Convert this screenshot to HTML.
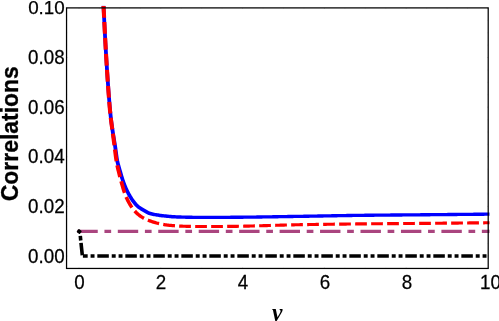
<!DOCTYPE html>
<html><head><meta charset="utf-8"><title>plot</title>
<style>
html,body{margin:0;padding:0;background:#fff;}
body{width:499px;height:321px;overflow:hidden;position:relative;font-family:"Liberation Sans",sans-serif;}
svg{position:absolute;left:0;top:0;will-change:transform;}
text{font-family:"Liberation Sans",sans-serif;fill:#000;}
.tk{font-size:18.8px;stroke:#000;stroke-width:0.25px;}
</style></head><body>
<svg width="499" height="321" viewBox="0 0 499 321">
<defs><clipPath id="c"><rect x="66.55" y="5.800000000000001" width="423.15" height="262.65000000000003"/></clipPath></defs>
<g clip-path="url(#c)" fill="none" stroke-width="3.5">
<path d="M101.60,5.59 L101.65,6.59 L101.70,7.59 L101.75,8.59 L101.80,9.59 L101.85,10.59 L101.90,11.59 L101.95,12.59 L102.00,13.58 L102.05,14.58 L102.10,15.58 L102.15,16.58 L102.20,17.58 L102.25,18.58 L102.30,19.58 L102.35,20.58 L102.40,21.57 L102.45,22.57 L102.50,23.57 L102.55,24.57 L102.60,25.57 L102.65,26.57 L102.70,27.57 L102.75,28.57 L102.80,29.57 L102.85,30.57 L102.90,31.56 L102.95,32.56 L103.00,33.56 L103.05,34.56 L103.10,35.56 L103.16,36.56 L103.21,37.56 L103.26,38.56 L103.31,39.56 L103.37,40.56 L103.42,41.56 L103.48,42.56 L103.53,43.56 L103.59,44.56 L103.64,45.55 L103.70,46.55 L103.76,47.55 L103.81,48.55 L103.87,49.55 L103.93,50.55 L103.99,51.55 L104.05,52.55 L104.11,53.55 L104.17,54.55 L104.23,55.54 L104.29,56.54 L104.35,57.54 L104.41,58.54 L104.47,59.54 L104.53,60.54 L104.59,61.54 L104.65,62.54 L104.72,63.53 L104.78,64.53 L104.84,65.53 L104.91,66.53 L104.97,67.53 L105.03,68.53 L105.10,69.53 L105.16,70.53 L105.23,71.52 L105.30,72.52 L105.36,73.52 L105.43,74.52 L105.50,75.52 L105.56,76.52 L105.63,77.52 L105.70,78.51 L105.77,79.51 L105.84,80.51 L105.91,81.51 L105.98,82.51 L106.05,83.51 L106.12,84.50 L106.19,85.50 L106.27,86.50 L106.34,87.50 L106.41,88.50 L106.49,89.50 L106.56,90.49 L106.63,91.49 L106.71,92.49 L106.79,93.49 L106.86,94.49 L106.94,95.48 L107.02,96.48 L107.09,97.48 L107.17,98.48 L107.25,99.48 L107.33,100.48 L107.41,101.47 L107.49,102.47 L107.58,103.47 L107.66,104.47 L107.74,105.47 L107.83,106.47 L107.92,107.47 L108.01,108.47 L108.10,109.46 L108.19,110.46 L108.29,111.46 L108.38,112.46 L108.48,113.46 L108.58,114.46 L108.69,115.46 L108.80,116.46 L108.91,117.46 L109.02,118.46 L109.14,119.46 L109.26,120.46 L109.39,121.46 L109.52,122.46 L109.65,123.46 L109.79,124.45 L109.93,125.45 L110.07,126.44 L110.21,127.43 L110.35,128.43 L110.49,129.42 L110.64,130.41 L110.79,131.40 L110.93,132.39 L111.08,133.38 L111.23,134.38 L111.39,135.38 L111.55,136.37 L111.72,137.37 L111.89,138.35 L112.05,139.34 L112.22,140.33 L112.39,141.31 L112.56,142.30 L112.72,143.28 L112.89,144.26 L113.05,145.24 L113.20,146.22 L113.35,147.20 L113.50,148.17 L113.63,149.15 L113.76,150.13 L113.89,151.12 L114.02,152.11 L114.15,153.10 L114.28,154.10 L114.41,155.10 L114.55,156.10 L114.69,157.10 L114.85,158.11 L115.02,159.12 L115.20,160.13 L115.40,161.14 L115.61,162.15 L115.85,163.16 L116.09,164.15 L116.36,165.15 L116.62,166.13 L116.90,167.10 L117.18,168.07 L117.46,169.04 L117.75,170.00 L118.03,170.95 L118.31,171.91 L118.58,172.86 L118.86,173.83 L119.14,174.79 L119.43,175.76 L119.71,176.72 L120.01,177.69 L120.31,178.66 L120.61,179.62 L120.93,180.59 L121.25,181.55 L121.59,182.51 L121.93,183.47 L122.29,184.43 L122.65,185.39 L123.04,186.34 L123.43,187.28 L123.83,188.22 L124.24,189.16 L124.67,190.08 L125.10,191.01 L125.55,191.93 L126.01,192.84 L126.47,193.75 L126.95,194.66 L127.44,195.56 L127.95,196.45 L128.47,197.33 L129.00,198.21 L129.56,199.09 L130.13,199.96 L130.71,200.80 L131.29,201.64 L131.90,202.47 L132.51,203.30 L133.16,204.12 L133.82,204.92 L134.53,205.73 L135.28,206.52 L136.05,207.27 L136.88,207.99 L137.73,208.65 L138.60,209.27 L139.50,209.86 L140.39,210.41 L141.28,210.93 L142.16,211.44 L143.04,211.93 L143.90,212.42 L144.74,212.90 L145.61,213.41 L146.52,213.92 L147.50,214.43 L148.56,214.89 L149.64,215.25 L150.65,215.53 L151.67,215.78 L152.69,215.99 L153.70,216.19 L154.72,216.37 L155.72,216.53 L156.72,216.69 L157.71,216.84 L158.71,216.99 L159.72,217.13 L160.72,217.26 L161.73,217.39 L162.73,217.50 L163.73,217.62 L164.73,217.72 L165.74,217.83 L166.73,217.93 L167.73,218.03 L168.73,218.12 L169.74,218.22 L170.74,218.31 L171.76,218.39 L172.77,218.46 L173.79,218.52 L174.80,218.57 L175.80,218.61 L176.81,218.65 L177.82,218.69 L178.82,218.72 L179.83,218.75 L180.83,218.78 L181.84,218.80 L182.84,218.82 L183.84,218.84 L184.84,218.86 L185.84,218.88 L186.84,218.90 L187.84,218.92 L188.84,218.94 L189.84,218.95 L190.85,218.97 L191.85,218.98 L192.85,218.99 L193.86,219.00 L194.86,219.01 L195.86,219.02 L196.87,219.02 L197.87,219.02 L198.87,219.03 L199.87,219.03 L200.87,219.03 L201.87,219.03 L202.87,219.03 L203.87,219.03 L204.87,219.03 L205.87,219.03 L206.87,219.03 L207.87,219.03 L208.87,219.03 L209.87,219.03 L210.87,219.03 L211.87,219.03 L212.87,219.03 L213.87,219.02 L214.88,219.02 L215.88,219.02 L216.88,219.02 L217.88,219.02 L218.88,219.02 L219.88,219.02 L220.88,219.01 L221.88,219.01 L222.88,219.01 L223.88,219.00 L224.88,219.00 L225.88,218.99 L226.88,218.99 L227.88,218.98 L228.88,218.98 L229.88,218.98 L230.88,218.97 L231.88,218.97 L232.88,218.96 L233.89,218.95 L234.89,218.95 L235.89,218.94 L236.89,218.93 L237.89,218.93 L238.89,218.92 L239.89,218.91 L240.89,218.90 L241.89,218.89 L242.89,218.88 L243.89,218.87 L244.89,218.86 L245.89,218.85 L246.89,218.84 L247.89,218.83 L248.89,218.82 L249.89,218.80 L250.89,218.79 L251.89,218.78 L252.90,218.77 L253.90,218.75 L254.90,218.74 L255.90,218.73 L256.90,218.71 L257.90,218.70 L258.90,218.68 L259.90,218.67 L260.90,218.65 L261.90,218.64 L262.90,218.62 L263.90,218.61 L264.90,218.59 L265.90,218.58 L266.90,218.56 L267.90,218.55 L268.90,218.53 L269.90,218.51 L270.90,218.50 L271.90,218.48 L272.90,218.47 L273.90,218.45 L274.90,218.43 L275.90,218.42 L276.90,218.40 L277.90,218.38 L278.90,218.37 L279.90,218.35 L280.90,218.33 L281.90,218.32 L282.90,218.30 L283.90,218.28 L284.90,218.27 L285.90,218.25 L286.90,218.23 L287.90,218.22 L288.90,218.20 L289.90,218.18 L290.90,218.17 L291.90,218.15 L292.90,218.14 L293.90,218.12 L294.89,218.10 L295.89,218.09 L296.89,218.07 L297.89,218.06 L298.89,218.04 L299.89,218.03 L300.89,218.01 L301.89,218.00 L302.89,217.98 L303.89,217.96 L304.89,217.95 L305.89,217.93 L306.89,217.92 L307.89,217.90 L308.90,217.88 L309.90,217.87 L310.90,217.85 L311.90,217.83 L312.90,217.81 L313.90,217.80 L314.90,217.78 L315.90,217.76 L316.90,217.74 L317.90,217.72 L318.90,217.71 L319.90,217.69 L320.90,217.67 L321.90,217.65 L322.90,217.63 L323.90,217.61 L324.89,217.60 L325.89,217.58 L326.89,217.56 L327.89,217.54 L328.89,217.52 L329.89,217.50 L330.89,217.49 L331.89,217.47 L332.89,217.45 L333.89,217.43 L334.89,217.41 L335.89,217.39 L336.89,217.38 L337.89,217.36 L338.89,217.34 L339.89,217.32 L340.89,217.31 L341.89,217.29 L342.89,217.27 L343.89,217.26 L344.89,217.24 L345.89,217.22 L346.89,217.21 L347.89,217.19 L348.89,217.18 L349.89,217.16 L350.88,217.15 L351.88,217.13 L352.88,217.12 L353.88,217.10 L354.88,217.09 L355.88,217.08 L356.88,217.06 L357.88,217.05 L358.88,217.04 L359.88,217.03 L360.88,217.01 L361.88,217.00 L362.88,216.99 L363.88,216.98 L364.88,216.97 L365.88,216.96 L366.88,216.95 L367.88,216.94 L368.88,216.93 L369.88,216.92 L370.88,216.91 L371.88,216.90 L372.88,216.89 L373.87,216.88 L374.87,216.87 L375.87,216.86 L376.87,216.85 L377.87,216.84 L378.87,216.83 L379.87,216.82 L380.87,216.81 L381.87,216.80 L382.87,216.79 L383.87,216.78 L384.87,216.77 L385.87,216.77 L386.87,216.76 L387.87,216.75 L388.87,216.74 L389.87,216.73 L390.87,216.72 L391.87,216.71 L392.87,216.71 L393.87,216.70 L394.87,216.69 L395.87,216.68 L396.87,216.67 L397.87,216.66 L398.87,216.66 L399.87,216.65 L400.87,216.64 L401.87,216.63 L402.87,216.62 L403.87,216.62 L404.87,216.61 L405.87,216.60 L406.87,216.59 L407.87,216.58 L408.87,216.57 L409.87,216.56 L410.87,216.56 L411.87,216.55 L412.87,216.54 L413.87,216.53 L414.87,216.52 L415.87,216.51 L416.87,216.50 L417.87,216.49 L418.87,216.49 L419.87,216.48 L420.87,216.47 L421.87,216.46 L422.87,216.45 L423.87,216.44 L424.87,216.43 L425.87,216.42 L426.87,216.41 L427.87,216.40 L428.87,216.39 L429.87,216.38 L430.87,216.37 L431.87,216.37 L432.87,216.36 L433.87,216.35 L434.87,216.34 L435.87,216.33 L436.87,216.32 L437.87,216.31 L438.87,216.30 L439.87,216.29 L440.87,216.28 L441.87,216.27 L442.87,216.26 L443.87,216.25 L444.87,216.24 L445.87,216.24 L446.87,216.23 L447.87,216.22 L448.87,216.21 L449.87,216.20 L450.87,216.19 L451.87,216.18 L452.87,216.17 L453.87,216.16 L454.87,216.15 L455.87,216.14 L456.87,216.13 L457.87,216.12 L458.87,216.11 L459.87,216.10 L460.87,216.10 L461.87,216.09 L462.87,216.08 L463.87,216.07 L464.87,216.06 L465.87,216.05 L466.87,216.04 L467.87,216.03 L468.87,216.02 L469.87,216.01 L470.87,216.00 L471.87,215.99 L472.87,215.98 L473.87,215.97 L474.87,215.96 L475.87,215.95 L476.87,215.95 L477.87,215.94 L478.87,215.93 L479.87,215.92 L480.87,215.91 L481.87,215.90 L482.87,215.89 L483.87,215.88 L484.87,215.87 L485.87,215.86 L486.87,215.85 L487.87,215.84 L488.87,215.83 L489.67,215.83 L489.64,212.48 L488.84,212.48 L487.84,212.49 L486.84,212.50 L485.84,212.51 L484.84,212.52 L483.84,212.53 L482.84,212.54 L481.84,212.55 L480.84,212.56 L479.84,212.57 L478.84,212.58 L477.84,212.59 L476.84,212.60 L475.84,212.61 L474.84,212.61 L473.84,212.62 L472.84,212.63 L471.84,212.64 L470.84,212.65 L469.84,212.66 L468.84,212.67 L467.84,212.68 L466.84,212.69 L465.84,212.70 L464.84,212.71 L463.84,212.72 L462.84,212.73 L461.84,212.74 L460.84,212.75 L459.84,212.75 L458.84,212.76 L457.84,212.77 L456.84,212.78 L455.84,212.79 L454.84,212.80 L453.84,212.81 L452.84,212.82 L451.84,212.83 L450.84,212.84 L449.84,212.85 L448.84,212.86 L447.84,212.87 L446.84,212.88 L445.84,212.89 L444.84,212.89 L443.84,212.90 L442.84,212.91 L441.84,212.92 L440.84,212.93 L439.84,212.94 L438.84,212.95 L437.84,212.96 L436.84,212.97 L435.84,212.98 L434.84,212.99 L433.84,213.00 L432.84,213.01 L431.84,213.02 L430.84,213.02 L429.84,213.03 L428.84,213.04 L427.84,213.05 L426.84,213.06 L425.84,213.07 L424.84,213.08 L423.84,213.09 L422.84,213.10 L421.84,213.11 L420.84,213.12 L419.84,213.13 L418.84,213.14 L417.84,213.14 L416.84,213.15 L415.84,213.16 L414.84,213.17 L413.84,213.18 L412.84,213.19 L411.84,213.20 L410.84,213.21 L409.84,213.21 L408.84,213.22 L407.84,213.23 L406.84,213.24 L405.84,213.25 L404.84,213.26 L403.84,213.27 L402.84,213.27 L401.84,213.28 L400.84,213.29 L399.84,213.30 L398.84,213.31 L397.84,213.31 L396.84,213.32 L395.84,213.33 L394.84,213.34 L393.84,213.35 L392.84,213.36 L391.84,213.36 L390.84,213.37 L389.84,213.38 L388.84,213.39 L387.84,213.40 L386.84,213.41 L385.84,213.42 L384.84,213.42 L383.84,213.43 L382.84,213.44 L381.84,213.45 L380.84,213.46 L379.84,213.47 L378.84,213.48 L377.84,213.49 L376.84,213.50 L375.84,213.51 L374.84,213.52 L373.84,213.53 L372.84,213.54 L371.84,213.55 L370.84,213.56 L369.84,213.57 L368.84,213.58 L367.84,213.59 L366.84,213.60 L365.84,213.61 L364.84,213.62 L363.84,213.63 L362.84,213.64 L361.84,213.65 L360.84,213.67 L359.84,213.68 L358.84,213.69 L357.84,213.70 L356.84,213.71 L355.84,213.73 L354.84,213.74 L353.84,213.75 L352.84,213.77 L351.84,213.78 L350.84,213.80 L349.83,213.81 L348.83,213.83 L347.83,213.84 L346.83,213.86 L345.83,213.88 L344.83,213.89 L343.83,213.91 L342.83,213.92 L341.83,213.94 L340.83,213.96 L339.83,213.98 L338.83,213.99 L337.83,214.01 L336.83,214.03 L335.83,214.05 L334.83,214.06 L333.83,214.08 L332.83,214.10 L331.83,214.12 L330.83,214.14 L329.83,214.15 L328.83,214.17 L327.83,214.19 L326.83,214.21 L325.83,214.23 L324.83,214.25 L323.83,214.26 L322.83,214.28 L321.83,214.30 L320.83,214.32 L319.83,214.34 L318.83,214.36 L317.83,214.37 L316.84,214.39 L315.84,214.41 L314.84,214.43 L313.84,214.45 L312.84,214.46 L311.84,214.48 L310.84,214.50 L309.84,214.52 L308.84,214.53 L307.84,214.55 L306.84,214.57 L305.84,214.58 L304.84,214.60 L303.84,214.62 L302.84,214.63 L301.84,214.65 L300.84,214.66 L299.84,214.68 L298.84,214.69 L297.84,214.71 L296.84,214.72 L295.84,214.74 L294.84,214.75 L293.84,214.77 L292.84,214.79 L291.84,214.80 L290.84,214.82 L289.84,214.83 L288.84,214.85 L287.84,214.87 L286.84,214.88 L285.84,214.90 L284.84,214.92 L283.84,214.93 L282.84,214.95 L281.84,214.97 L280.84,214.98 L279.84,215.00 L278.84,215.02 L277.84,215.03 L276.84,215.05 L275.84,215.07 L274.84,215.08 L273.84,215.10 L272.84,215.12 L271.84,215.13 L270.84,215.15 L269.84,215.17 L268.85,215.18 L267.85,215.20 L266.85,215.21 L265.85,215.23 L264.85,215.24 L263.85,215.26 L262.85,215.27 L261.85,215.29 L260.85,215.30 L259.85,215.32 L258.85,215.33 L257.85,215.35 L256.85,215.36 L255.85,215.38 L254.85,215.39 L253.85,215.40 L252.85,215.42 L251.85,215.43 L250.85,215.44 L249.85,215.45 L248.85,215.47 L247.85,215.48 L246.86,215.49 L245.86,215.50 L244.86,215.51 L243.86,215.52 L242.86,215.53 L241.86,215.54 L240.86,215.55 L239.86,215.56 L238.86,215.57 L237.86,215.58 L236.86,215.58 L235.86,215.59 L234.86,215.60 L233.86,215.60 L232.86,215.61 L231.87,215.62 L230.87,215.62 L229.87,215.63 L228.87,215.63 L227.87,215.63 L226.87,215.64 L225.87,215.64 L224.87,215.65 L223.87,215.65 L222.87,215.66 L221.87,215.66 L220.87,215.66 L219.87,215.67 L218.87,215.67 L217.87,215.67 L216.87,215.67 L215.87,215.67 L214.87,215.67 L213.87,215.67 L212.87,215.67 L211.87,215.67 L210.87,215.67 L209.87,215.67 L208.87,215.67 L207.87,215.67 L206.87,215.67 L205.87,215.67 L204.87,215.67 L203.87,215.67 L202.87,215.67 L201.87,215.67 L200.87,215.67 L199.87,215.67 L198.87,215.67 L197.88,215.67 L196.88,215.67 L195.88,215.67 L194.89,215.66 L193.89,215.65 L192.90,215.64 L191.90,215.62 L190.90,215.60 L189.91,215.58 L188.91,215.56 L187.91,215.54 L186.91,215.52 L185.91,215.49 L184.91,215.47 L183.92,215.44 L182.92,215.42 L181.92,215.39 L180.92,215.36 L179.93,215.33 L178.94,215.30 L177.94,215.26 L176.95,215.22 L175.96,215.17 L174.97,215.12 L173.98,215.07 L173.00,215.01 L172.02,214.94 L171.04,214.85 L170.05,214.76 L169.07,214.67 L168.08,214.56 L167.09,214.46 L166.09,214.36 L165.11,214.25 L164.12,214.14 L163.14,214.02 L162.16,213.90 L161.18,213.78 L160.20,213.64 L159.22,213.50 L158.25,213.35 L157.26,213.20 L156.28,213.04 L155.31,212.88 L154.36,212.70 L153.41,212.51 L152.47,212.31 L151.55,212.08 L150.64,211.83 L149.83,211.55 L149.05,211.20 L148.25,210.79 L147.42,210.31 L146.57,209.81 L145.68,209.29 L144.81,208.79 L143.94,208.30 L143.09,207.81 L142.25,207.31 L141.45,206.81 L140.67,206.29 L139.92,205.75 L139.20,205.18 L138.52,204.58 L137.86,203.94 L137.23,203.28 L136.62,202.58 L136.02,201.84 L135.43,201.08 L134.85,200.31 L134.28,199.52 L133.72,198.71 L133.17,197.90 L132.65,197.10 L132.13,196.29 L131.63,195.46 L131.14,194.62 L130.67,193.77 L130.20,192.91 L129.74,192.05 L129.30,191.17 L128.87,190.30 L128.44,189.42 L128.03,188.53 L127.62,187.64 L127.23,186.74 L126.85,185.84 L126.47,184.94 L126.11,184.03 L125.77,183.12 L125.43,182.21 L125.10,181.28 L124.78,180.35 L124.47,179.42 L124.17,178.48 L123.87,177.54 L123.58,176.60 L123.30,175.65 L123.02,174.70 L122.74,173.74 L122.46,172.79 L122.19,171.83 L121.91,170.87 L121.63,169.90 L121.35,168.94 L121.07,167.98 L120.79,167.02 L120.52,166.07 L120.26,165.12 L120.00,164.17 L119.75,163.23 L119.52,162.28 L119.31,161.34 L119.10,160.39 L118.92,159.44 L118.75,158.48 L118.60,157.51 L118.45,156.55 L118.31,155.57 L118.17,154.59 L118.04,153.61 L117.92,152.62 L117.79,151.63 L117.66,150.64 L117.53,149.64 L117.40,148.64 L117.26,147.64 L117.11,146.63 L116.96,145.63 L116.80,144.64 L116.64,143.64 L116.47,142.65 L116.31,141.66 L116.14,140.67 L115.97,139.69 L115.80,138.70 L115.63,137.72 L115.47,136.74 L115.30,135.76 L115.14,134.78 L114.99,133.80 L114.84,132.82 L114.69,131.83 L114.55,130.85 L114.40,129.86 L114.25,128.87 L114.11,127.88 L113.97,126.90 L113.83,125.91 L113.69,124.92 L113.55,123.94 L113.42,122.95 L113.29,121.96 L113.16,120.98 L113.03,119.99 L112.91,119.01 L112.80,118.02 L112.68,117.04 L112.57,116.05 L112.47,115.06 L112.36,114.07 L112.26,113.08 L112.16,112.09 L112.07,111.10 L111.97,110.11 L111.88,109.12 L111.79,108.12 L111.70,107.13 L111.62,106.14 L111.53,105.14 L111.45,104.15 L111.36,103.16 L111.28,102.16 L111.20,101.17 L111.12,100.17 L111.04,99.18 L110.96,98.18 L110.88,97.18 L110.80,96.19 L110.73,95.19 L110.65,94.20 L110.57,93.20 L110.50,92.20 L110.42,91.21 L110.35,90.21 L110.28,89.22 L110.20,88.22 L110.13,87.22 L110.06,86.23 L109.98,85.23 L109.91,84.23 L109.84,83.24 L109.77,82.24 L109.70,81.24 L109.63,80.25 L109.56,79.25 L109.49,78.25 L109.42,77.26 L109.36,76.26 L109.29,75.26 L109.22,74.27 L109.15,73.27 L109.09,72.27 L109.02,71.27 L108.96,70.28 L108.89,69.28 L108.83,68.28 L108.76,67.29 L108.70,66.29 L108.64,65.29 L108.57,64.29 L108.51,63.30 L108.45,62.30 L108.38,61.30 L108.32,60.30 L108.26,59.31 L108.20,58.31 L108.14,57.31 L108.08,56.31 L108.02,55.32 L107.96,54.32 L107.90,53.32 L107.84,52.32 L107.78,51.33 L107.72,50.33 L107.66,49.33 L107.61,48.33 L107.55,47.34 L107.49,46.34 L107.44,45.34 L107.38,44.34 L107.33,43.35 L107.27,42.35 L107.22,41.35 L107.16,40.35 L107.11,39.36 L107.06,38.36 L107.00,37.36 L106.95,36.36 L106.90,35.36 L106.85,34.37 L106.80,33.37 L106.74,32.37 L106.69,31.37 L106.64,30.37 L106.59,29.37 L106.54,28.38 L106.49,27.38 L106.44,26.38 L106.39,25.38 L106.34,24.38 L106.29,23.38 L106.24,22.38 L106.19,21.39 L106.14,20.39 L106.09,19.39 L106.04,18.39 L106.00,17.39 L105.95,16.39 L105.90,15.39 L105.85,14.39 L105.80,13.40 L105.75,12.40 L105.70,11.40 L105.65,10.40 L105.60,9.40 L105.55,8.40 L105.50,7.40 L105.45,6.40 L105.40,5.41Z" fill="#0000ff" stroke="none"/>
<path d="M101.48,6.10 L101.53,7.10 L101.58,8.10 L101.63,9.10 L101.68,10.10 L101.73,11.10 L101.78,12.09 L101.83,13.09 L101.88,14.09 L101.93,15.09 L101.98,16.09 L102.03,17.09 L102.07,17.84 L106.16,17.63 L106.12,16.88 L106.07,15.89 L106.02,14.89 L105.97,13.89 L105.92,12.89 L105.87,11.89 L105.82,10.89 L105.77,9.89 L105.72,8.89 L105.67,7.89 L105.62,6.90 L105.57,5.90Z M102.28,22.08 L102.33,23.08 L102.38,24.08 L102.43,25.08 L102.48,26.08 L102.53,27.08 L102.58,28.08 L102.63,29.07 L102.68,30.07 L102.73,31.07 L102.78,32.07 L102.83,33.07 L102.88,33.87 L106.96,33.66 L106.92,32.86 L106.87,31.86 L106.82,30.86 L106.77,29.87 L106.72,28.87 L106.67,27.87 L106.62,26.87 L106.57,25.87 L106.52,24.87 L106.47,23.87 L106.42,22.88 L106.37,21.88Z M103.09,38.07 L103.15,39.07 L103.20,40.06 L103.26,41.06 L103.31,42.06 L103.36,43.06 L103.42,44.06 L103.47,45.06 L103.53,46.06 L103.59,47.06 L103.64,48.06 L103.70,49.06 L103.74,49.81 L107.82,49.57 L107.78,48.83 L107.72,47.83 L107.67,46.83 L107.61,45.83 L107.55,44.84 L107.50,43.84 L107.44,42.84 L107.39,41.84 L107.34,40.84 L107.28,39.85 L107.23,38.85 L107.18,37.85Z M103.99,54.05 L104.05,55.05 L104.11,56.05 L104.17,57.05 L104.23,58.05 L104.29,59.05 L104.35,60.05 L104.41,61.04 L104.47,62.04 L104.53,63.04 L104.59,64.04 L104.65,65.04 L104.69,65.79 L108.77,65.54 L108.72,64.79 L108.66,63.79 L108.60,62.79 L108.54,61.80 L108.48,60.80 L108.42,59.80 L108.36,58.80 L108.30,57.81 L108.24,56.81 L108.18,55.81 L108.12,54.81 L108.07,53.81Z M104.96,70.03 L105.02,71.03 L105.09,72.03 L105.15,73.03 L105.21,74.03 L105.28,75.03 L105.34,76.02 L105.41,77.02 L105.48,78.02 L105.54,79.02 L105.61,80.02 L105.68,81.02 L105.73,81.82 L109.79,81.54 L109.74,80.74 L109.67,79.75 L109.61,78.75 L109.54,77.75 L109.48,76.76 L109.41,75.76 L109.35,74.76 L109.28,73.77 L109.22,72.77 L109.15,71.77 L109.09,70.77 L109.03,69.78Z M106.02,86.01 L106.09,87.01 L106.16,88.01 L106.23,89.01 L106.31,90.01 L106.38,91.01 L106.45,92.00 L106.52,93.00 L106.60,94.00 L106.67,95.00 L106.75,96.00 L106.83,97.00 L106.88,97.74 L110.94,97.43 L110.88,96.68 L110.81,95.69 L110.73,94.69 L110.66,93.70 L110.58,92.70 L110.51,91.71 L110.44,90.71 L110.36,89.71 L110.29,88.72 L110.22,87.72 L110.15,86.72 L110.08,85.73Z M107.22,101.99 L107.30,102.99 L107.38,103.99 L107.47,104.99 L107.55,105.99 L107.64,106.99 L107.73,107.99 L107.82,108.98 L107.91,109.98 L108.01,110.98 L108.11,111.98 L108.20,112.98 L108.28,113.73 L112.32,113.32 L112.25,112.58 L112.15,111.59 L112.05,110.60 L111.96,109.61 L111.87,108.61 L111.78,107.62 L111.69,106.63 L111.60,105.64 L111.52,104.64 L111.43,103.65 L111.35,102.66 L111.27,101.66Z M108.74,117.99 L108.85,118.99 L108.98,119.99 L109.10,120.99 L109.23,121.99 L109.37,122.98 L109.50,123.98 L109.64,124.97 L109.77,125.97 L109.91,126.96 L110.05,127.95 L110.19,128.94 L110.29,129.68 L114.31,129.12 L114.21,128.38 L114.07,127.39 L113.93,126.40 L113.79,125.41 L113.66,124.42 L113.52,123.43 L113.39,122.44 L113.26,121.46 L113.13,120.47 L113.00,119.49 L112.88,118.50 L112.77,117.52Z M110.86,133.88 L110.99,134.87 L111.12,135.86 L111.25,136.85 L111.38,137.84 L111.51,138.83 L111.65,139.83 L111.78,140.82 L111.91,141.81 L112.04,142.80 L112.17,143.79 L112.30,144.78 L112.40,145.53 L116.41,144.99 L116.32,144.25 L116.19,143.26 L116.05,142.27 L115.92,141.28 L115.79,140.29 L115.66,139.30 L115.53,138.30 L115.40,137.31 L115.27,136.32 L115.14,135.33 L115.01,134.34 L114.88,133.35Z M112.96,149.72 L113.09,150.71 L113.22,151.70 L113.34,152.70 L113.47,153.69 L113.60,154.69 L113.73,155.68 L113.86,156.68 L114.00,157.68 L114.14,158.68 L114.29,159.68 L114.44,160.68 L114.56,161.43 L118.45,160.81 L118.34,160.08 L118.19,159.11 L118.06,158.13 L117.92,157.14 L117.79,156.16 L117.67,155.18 L117.55,154.19 L117.43,153.20 L117.31,152.21 L117.19,151.22 L117.07,150.22 L116.95,149.23Z M115.36,165.70 L115.57,166.69 L115.79,167.68 L116.02,168.67 L116.25,169.65 L116.49,170.63 L116.73,171.61 L116.97,172.58 L117.21,173.55 L117.45,174.52 L117.70,175.50 L117.94,176.48 L118.20,177.45 L121.89,176.50 L121.65,175.54 L121.41,174.58 L121.18,173.61 L120.95,172.64 L120.71,171.67 L120.48,170.70 L120.25,169.73 L120.03,168.76 L119.80,167.80 L119.59,166.83 L119.38,165.87 L119.18,164.91Z M119.36,181.73 L119.63,182.70 L119.91,183.66 L120.19,184.63 L120.46,185.59 L120.74,186.55 L121.02,187.51 L121.30,188.48 L121.58,189.44 L121.88,190.42 L122.18,191.39 L122.50,192.37 L122.83,193.34 L122.88,193.48 L126.34,192.28 L126.29,192.14 L125.99,191.22 L125.69,190.29 L125.41,189.35 L125.14,188.41 L124.87,187.45 L124.60,186.50 L124.33,185.53 L124.06,184.57 L123.79,183.60 L123.53,182.64 L123.27,181.68 L123.00,180.72Z M124.54,197.69 L124.96,198.64 L125.39,199.57 L125.84,200.50 L126.29,201.41 L126.77,202.32 L127.25,203.23 L127.75,204.12 L128.27,205.01 L128.81,205.90 L129.36,206.77 L129.94,207.64 L130.53,208.50 L130.59,208.58 L133.44,206.56 L133.38,206.48 L132.84,205.69 L132.32,204.88 L131.82,204.07 L131.32,203.23 L130.85,202.39 L130.38,201.53 L129.93,200.67 L129.49,199.80 L129.06,198.93 L128.65,198.04 L128.25,197.16 L127.86,196.27Z M133.45,212.16 L134.15,212.93 L134.87,213.68 L135.62,214.42 L136.40,215.14 L137.21,215.84 L138.04,216.51 L138.88,217.13 L139.74,217.74 L140.61,218.31 L141.49,218.86 L142.39,219.39 L143.22,219.85 L144.85,216.86 L144.10,216.44 L143.27,215.95 L142.47,215.44 L141.67,214.91 L140.90,214.36 L140.14,213.79 L139.41,213.19 L138.71,212.58 L138.03,211.94 L137.35,211.27 L136.69,210.58 L136.05,209.87Z M147.28,221.71 L148.25,222.07 L149.21,222.40 L150.15,222.73 L151.11,223.06 L152.06,223.39 L153.03,223.71 L154.00,224.02 L154.98,224.32 L155.97,224.60 L156.98,224.86 L157.98,225.10 L158.73,225.26 L159.45,222.04 L158.73,221.87 L157.79,221.64 L156.86,221.39 L155.93,221.12 L155.00,220.83 L154.07,220.53 L153.14,220.22 L152.20,219.89 L151.27,219.56 L150.33,219.23 L149.40,218.90 L148.49,218.56Z M162.98,226.10 L163.99,226.26 L165.00,226.41 L166.01,226.55 L167.02,226.67 L168.03,226.78 L169.04,226.89 L170.04,226.99 L171.05,227.08 L172.05,227.16 L173.06,227.24 L174.06,227.32 L174.86,227.38 L175.10,224.17 L174.31,224.11 L173.32,224.03 L172.33,223.94 L171.34,223.85 L170.35,223.76 L169.37,223.66 L168.39,223.55 L167.41,223.43 L166.43,223.31 L165.46,223.18 L164.50,223.03 L163.53,222.86Z M179.08,227.66 L180.09,227.71 L181.11,227.76 L182.12,227.79 L183.12,227.82 L184.12,227.84 L185.12,227.87 L186.12,227.89 L187.13,227.92 L188.13,227.95 L189.13,227.97 L190.13,227.99 L190.88,228.00 L190.94,224.85 L190.20,224.84 L189.20,224.82 L188.20,224.80 L187.20,224.77 L186.21,224.75 L185.21,224.72 L184.21,224.68 L183.21,224.65 L182.22,224.62 L181.23,224.58 L180.25,224.53 L179.26,224.48Z M195.15,228.06 L196.15,228.07 L197.16,228.07 L198.16,228.07 L199.16,228.07 L200.16,228.07 L201.16,228.07 L202.16,228.07 L203.16,228.07 L204.16,228.07 L205.16,228.07 L206.16,228.07 L206.91,228.07 L206.91,224.93 L206.16,224.93 L205.16,224.93 L204.16,224.93 L203.16,224.93 L202.16,224.93 L201.16,224.93 L200.16,224.93 L199.16,224.93 L198.16,224.93 L197.17,224.92 L196.17,224.92 L195.18,224.91Z M211.16,228.07 L212.16,228.07 L213.16,228.07 L214.16,228.07 L215.17,228.07 L216.17,228.07 L217.17,228.07 L218.17,228.07 L219.17,228.06 L220.17,228.05 L221.17,228.05 L222.17,228.04 L222.93,228.04 L222.90,224.89 L222.15,224.89 L221.15,224.90 L220.15,224.90 L219.16,224.91 L218.16,224.92 L217.16,224.92 L216.16,224.92 L215.16,224.92 L214.16,224.92 L213.16,224.93 L212.16,224.93 L211.16,224.93Z M227.18,228.00 L228.18,227.99 L229.18,227.98 L230.18,227.97 L231.18,227.96 L232.18,227.95 L233.18,227.94 L234.18,227.93 L235.19,227.92 L236.19,227.90 L237.19,227.89 L238.19,227.87 L238.94,227.86 L238.88,224.71 L238.14,224.72 L237.14,224.74 L236.14,224.75 L235.14,224.77 L234.14,224.78 L233.14,224.79 L232.15,224.80 L231.15,224.81 L230.15,224.82 L229.15,224.83 L228.15,224.84 L227.15,224.85Z M243.19,227.77 L244.20,227.75 L245.20,227.73 L246.20,227.71 L247.20,227.69 L248.20,227.66 L249.20,227.64 L250.20,227.61 L251.20,227.59 L252.20,227.56 L253.20,227.54 L254.20,227.51 L254.95,227.49 L254.87,224.34 L254.12,224.36 L253.12,224.39 L252.12,224.41 L251.12,224.44 L250.12,224.46 L249.12,224.49 L248.12,224.51 L247.12,224.54 L246.13,224.56 L245.13,224.58 L244.13,224.60 L243.13,224.63Z M259.20,227.37 L260.20,227.34 L261.20,227.31 L262.20,227.28 L263.20,227.25 L264.20,227.22 L265.20,227.19 L266.20,227.16 L267.20,227.13 L268.20,227.10 L269.20,227.07 L270.20,227.04 L270.95,227.02 L270.85,223.87 L270.10,223.89 L269.10,223.92 L268.11,223.95 L267.11,223.98 L266.11,224.01 L265.11,224.04 L264.11,224.07 L263.11,224.10 L262.11,224.13 L261.11,224.16 L260.11,224.19 L259.11,224.22Z M275.20,226.89 L276.20,226.86 L277.19,226.83 L278.19,226.80 L279.19,226.77 L280.19,226.75 L281.19,226.72 L282.19,226.69 L283.19,226.66 L284.19,226.63 L285.19,226.61 L286.19,226.58 L286.94,226.56 L286.85,223.41 L286.10,223.43 L285.10,223.46 L284.10,223.49 L283.10,223.51 L282.10,223.54 L281.10,223.57 L280.10,223.60 L279.10,223.63 L278.10,223.65 L277.10,223.68 L276.10,223.71 L275.10,223.74Z M291.18,226.46 L292.18,226.43 L293.18,226.41 L294.18,226.39 L295.18,226.37 L296.17,226.35 L297.17,226.33 L298.17,226.31 L299.17,226.29 L300.17,226.27 L301.17,226.26 L302.17,226.24 L302.92,226.23 L302.86,223.08 L302.11,223.09 L301.11,223.11 L300.11,223.12 L299.11,223.14 L298.11,223.16 L297.11,223.18 L296.11,223.20 L295.11,223.22 L294.11,223.24 L293.11,223.26 L292.11,223.28 L291.11,223.31Z M307.17,226.16 L308.17,226.14 L309.17,226.12 L310.16,226.11 L311.16,226.09 L312.16,226.08 L313.16,226.06 L314.16,226.05 L315.16,226.03 L316.16,226.02 L317.16,226.00 L318.16,225.99 L318.91,225.98 L318.87,222.83 L318.12,222.84 L317.12,222.85 L316.12,222.87 L315.12,222.88 L314.12,222.90 L313.12,222.91 L312.12,222.93 L311.12,222.94 L310.12,222.96 L309.12,222.98 L308.12,222.99 L307.12,223.01Z M323.16,225.92 L324.16,225.90 L325.16,225.89 L326.16,225.88 L327.16,225.86 L328.16,225.85 L329.16,225.84 L330.16,225.82 L331.16,225.81 L332.16,225.80 L333.16,225.78 L334.16,225.77 L334.91,225.76 L334.87,222.61 L334.12,222.62 L333.12,222.63 L332.12,222.65 L331.12,222.66 L330.12,222.67 L329.12,222.69 L328.12,222.70 L327.12,222.71 L326.12,222.73 L325.12,222.74 L324.12,222.75 L323.12,222.77Z M339.16,225.71 L340.16,225.70 L341.16,225.68 L342.16,225.67 L343.16,225.66 L344.16,225.65 L345.16,225.64 L346.16,225.63 L347.15,225.61 L348.15,225.60 L349.15,225.59 L350.15,225.58 L350.90,225.57 L350.87,222.42 L350.12,222.43 L349.12,222.44 L348.12,222.45 L347.12,222.46 L346.12,222.48 L345.12,222.49 L344.12,222.50 L343.12,222.51 L342.12,222.52 L341.12,222.53 L340.12,222.55 L339.12,222.56Z M355.15,225.53 L356.15,225.52 L357.15,225.50 L358.15,225.49 L359.15,225.48 L360.15,225.47 L361.15,225.46 L362.15,225.45 L363.15,225.44 L364.15,225.43 L365.15,225.42 L366.15,225.41 L366.90,225.41 L366.87,222.26 L366.12,222.26 L365.12,222.27 L364.12,222.28 L363.12,222.29 L362.12,222.30 L361.12,222.31 L360.12,222.32 L359.12,222.33 L358.12,222.34 L357.12,222.35 L356.12,222.37 L355.12,222.38Z M371.15,225.37 L372.15,225.36 L373.15,225.35 L374.15,225.34 L375.15,225.33 L376.15,225.33 L377.15,225.32 L378.15,225.31 L379.15,225.30 L380.15,225.29 L381.15,225.28 L382.15,225.28 L382.90,225.27 L382.87,222.12 L382.12,222.13 L381.12,222.13 L380.12,222.14 L379.12,222.15 L378.12,222.16 L377.12,222.17 L376.12,222.18 L375.12,222.18 L374.12,222.19 L373.12,222.20 L372.12,222.21 L371.12,222.22Z M387.15,225.24 L388.15,225.23 L389.15,225.22 L390.15,225.21 L391.15,225.21 L392.15,225.20 L393.15,225.19 L394.15,225.18 L395.15,225.17 L396.15,225.17 L397.15,225.16 L398.15,225.15 L398.90,225.15 L398.87,222.00 L398.12,222.00 L397.12,222.01 L396.12,222.02 L395.12,222.02 L394.12,222.03 L393.12,222.04 L392.12,222.05 L391.12,222.06 L390.12,222.06 L389.12,222.07 L388.12,222.08 L387.12,222.09Z M403.15,225.11 L404.15,225.11 L405.15,225.10 L406.15,225.09 L407.15,225.08 L408.15,225.07 L409.15,225.07 L410.15,225.06 L411.15,225.05 L412.15,225.04 L413.15,225.03 L414.15,225.03 L414.90,225.02 L414.87,221.87 L414.12,221.88 L413.12,221.88 L412.12,221.89 L411.12,221.90 L410.12,221.91 L409.12,221.92 L408.12,221.92 L407.12,221.93 L406.12,221.94 L405.12,221.95 L404.12,221.96 L403.12,221.96Z M419.15,224.98 L420.15,224.97 L421.15,224.96 L422.15,224.96 L423.15,224.95 L424.15,224.94 L425.15,224.93 L426.15,224.92 L427.15,224.91 L428.15,224.90 L429.15,224.89 L430.15,224.89 L430.90,224.88 L430.87,221.73 L430.12,221.74 L429.12,221.74 L428.12,221.75 L427.12,221.76 L426.12,221.77 L425.12,221.78 L424.12,221.79 L423.12,221.80 L422.12,221.81 L421.12,221.82 L420.12,221.82 L419.12,221.83Z M435.15,224.84 L436.15,224.83 L437.15,224.82 L438.15,224.81 L439.15,224.80 L440.15,224.79 L441.15,224.79 L442.15,224.78 L443.15,224.77 L444.15,224.76 L445.15,224.75 L446.15,224.74 L446.95,224.73 L446.92,221.58 L446.12,221.59 L445.12,221.60 L444.12,221.61 L443.12,221.62 L442.12,221.63 L441.12,221.64 L440.12,221.64 L439.12,221.65 L438.12,221.66 L437.12,221.67 L436.12,221.68 L435.12,221.69Z M451.15,224.69 L452.15,224.68 L453.15,224.68 L454.15,224.67 L455.15,224.66 L456.15,224.65 L457.15,224.64 L458.15,224.63 L459.15,224.62 L460.15,224.61 L461.15,224.60 L462.15,224.59 L462.95,224.58 L462.92,221.43 L462.12,221.44 L461.12,221.45 L460.12,221.46 L459.12,221.47 L458.12,221.48 L457.12,221.49 L456.12,221.50 L455.12,221.51 L454.12,221.52 L453.12,221.53 L452.12,221.53 L451.12,221.54Z M467.15,224.54 L468.15,224.53 L469.15,224.52 L470.15,224.51 L471.15,224.51 L472.15,224.50 L473.15,224.49 L474.15,224.48 L475.15,224.47 L476.15,224.46 L477.15,224.45 L478.15,224.44 L478.95,224.43 L478.92,221.28 L478.12,221.29 L477.12,221.30 L476.12,221.31 L475.12,221.32 L474.12,221.33 L473.12,221.34 L472.12,221.35 L471.12,221.36 L470.12,221.37 L469.12,221.37 L468.12,221.38 L467.12,221.39Z M483.15,224.39 L484.15,224.38 L485.15,224.37 L486.15,224.36 L487.15,224.35 L488.15,224.34 L489.15,224.33 L489.70,224.33 L489.67,221.18 L489.12,221.18 L488.12,221.19 L487.12,221.20 L486.12,221.21 L485.12,221.22 L484.12,221.23 L483.12,221.24Z" fill="#ff0000" stroke="none"/>
<path d="M77.35,231.4 L489.7,231.4" stroke="#aa457f" stroke-width="3.4" stroke-dasharray="20.4 6.7 6.7 6.65"/>
<path d="M80.3,235.9 L80.75,240.5 M81.0,242.9 L82.3,255.2 M82.9,256.05 L87.68,256.05" stroke="#000" stroke-width="3.6"/>
<path d="M90.58,256.05 L487.6,256.05" stroke="#000" stroke-width="3.6" stroke-dasharray="11.5 2.9 3.95 2.9 3.95 2.8" stroke-dashoffset="21.25"/>
</g>
<rect x="-2.0" y="-2.0" width="4.0" height="4.0" rx="0.8" fill="#000" transform="translate(79.2,231.5) rotate(38)"/>
<path d="M79.00,268.45 v-1.0 M79.00,7.9 v1.0 M99.45,268.45 v-0.6 M99.45,7.9 v0.6 M119.90,268.45 v-0.6 M119.90,7.9 v0.6 M140.35,268.45 v-0.6 M140.35,7.9 v0.6 M160.80,268.45 v-1.0 M160.80,7.9 v1.0 M181.25,268.45 v-0.6 M181.25,7.9 v0.6 M201.70,268.45 v-0.6 M201.70,7.9 v0.6 M222.15,268.45 v-0.6 M222.15,7.9 v0.6 M242.60,268.45 v-1.0 M242.60,7.9 v1.0 M263.05,268.45 v-0.6 M263.05,7.9 v0.6 M283.50,268.45 v-0.6 M283.50,7.9 v0.6 M303.95,268.45 v-0.6 M303.95,7.9 v0.6 M324.40,268.45 v-1.0 M324.40,7.9 v1.0 M344.85,268.45 v-0.6 M344.85,7.9 v0.6 M365.30,268.45 v-0.6 M365.30,7.9 v0.6 M385.75,268.45 v-0.6 M385.75,7.9 v0.6 M406.20,268.45 v-1.0 M406.20,7.9 v1.0 M426.65,268.45 v-0.6 M426.65,7.9 v0.6 M447.10,268.45 v-0.6 M447.10,7.9 v0.6 M467.55,268.45 v-0.6 M467.55,7.9 v0.6 M488.00,268.45 v-1.0 M488.00,7.9 v1.0 M66.55,256.05 h1.0 M488.2,256.05 h-1.0 M66.55,243.64 h0.6 M488.2,243.64 h-0.6 M66.55,231.24 h0.6 M488.2,231.24 h-0.6 M66.55,218.83 h0.6 M488.2,218.83 h-0.6 M66.55,206.42 h1.0 M488.2,206.42 h-1.0 M66.55,194.01 h0.6 M488.2,194.01 h-0.6 M66.55,181.61 h0.6 M488.2,181.61 h-0.6 M66.55,169.20 h0.6 M488.2,169.20 h-0.6 M66.55,156.79 h1.0 M488.2,156.79 h-1.0 M66.55,144.38 h0.6 M488.2,144.38 h-0.6 M66.55,131.98 h0.6 M488.2,131.98 h-0.6 M66.55,119.57 h0.6 M488.2,119.57 h-0.6 M66.55,107.16 h1.0 M488.2,107.16 h-1.0 M66.55,94.75 h0.6 M488.2,94.75 h-0.6 M66.55,82.34 h0.6 M488.2,82.34 h-0.6 M66.55,69.94 h0.6 M488.2,69.94 h-0.6 M66.55,57.53 h1.0 M488.2,57.53 h-1.0 M66.55,45.12 h0.6 M488.2,45.12 h-0.6 M66.55,32.72 h0.6 M488.2,32.72 h-0.6 M66.55,20.31 h0.6 M488.2,20.31 h-0.6 M66.55,7.90 h1.0 M488.2,7.90 h-1.0" stroke="#999" stroke-width="0.4" fill="none"/>
<rect x="66.55" y="7.9" width="421.65" height="260.55" fill="none" stroke="#000" stroke-width="1.25"/>
<g class="tk" text-anchor="end">
<text transform="translate(64.7,13.9) scale(1,1.0)">0.10</text>
<text transform="translate(64.7,64.0) scale(1,1.035)">0.08</text>
<text transform="translate(64.7,113.7) scale(1,1.035)">0.06</text>
<text transform="translate(64.7,163.3) scale(1,1.035)">0.04</text>
<text transform="translate(64.7,213.2) scale(1,1.035)">0.02</text>
<text transform="translate(64.7,263.2) scale(1,1.035)">0.00</text>
</g>
<g class="tk" text-anchor="middle">
<text transform="translate(79.5,288.8) scale(1,1.035)">0</text>
<text transform="translate(161,288.8) scale(1,1.035)">2</text>
<text transform="translate(243,288.8) scale(1,1.035)">4</text>
<text transform="translate(325,288.8) scale(1,1.035)">6</text>
<text transform="translate(407,288.8) scale(1,1.035)">8</text>
<text transform="translate(490.4,288.8) scale(1,1.035)">10</text>
</g>
<text transform="translate(17.7,133.75) rotate(-90) scale(1,1.06)" text-anchor="middle" style="font-size:22.95px;font-weight:bold;stroke:#000;stroke-width:0.3px;">Correlations</text>
<text transform="translate(277.3,321.3) scale(0.94,1)" text-anchor="middle" style="font-family:'Liberation Serif',serif;font-size:25px;font-weight:bold;font-style:italic;">ν</text>
</svg>
</body></html>
